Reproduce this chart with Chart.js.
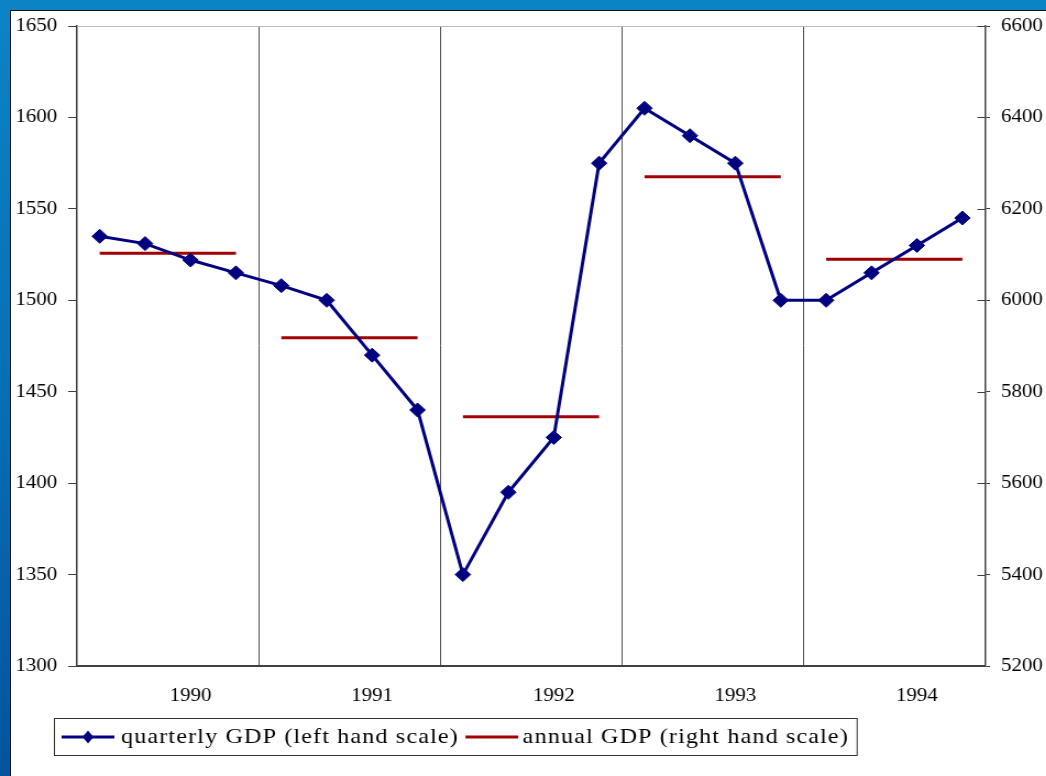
<!DOCTYPE html>
<html>
<head>
<meta charset="utf-8">
<title>Quarterly vs annual GDP</title>
<script src="https://cdn.jsdelivr.net/npm/chart.js@4.4.1/dist/chart.umd.min.js"></script>
<style>
  html, body { margin: 0; padding: 0; }
  body {
    width: 1046px; height: 776px; overflow: hidden; position: relative;
    background: linear-gradient(180deg, #0b84c6 0%, #0672b8 45%, #04549f 100%);
  }
  /* white slide area with thin dark edge */
  #frame {
    position: absolute; left: 10px; top: 10px; right: 0; bottom: 0;
    background: #fff; border-left: 1px solid #111; border-top: 1px solid #111;
    overflow: hidden;
  }
  /* the source picture is slightly stretched horizontally */
  #stretch { position: absolute; left: 0; top: 0; transform: scaleX(1.1); transform-origin: 0 0; }
</style>
</head>
<body>
<div id="frame">
  <div id="stretch"><canvas id="chart" width="941" height="765"></canvas></div>
</div>
<script>
// --- data ---
const years = ['1990', '1991', '1992', '1993', '1994'];
// quarterly GDP, left hand scale (4 per year)
const quarterlyGDP = [
  1535, 1531, 1522, 1515,
  1508, 1500, 1470, 1440,
  1350, 1395, 1425, 1575,
  1605, 1590, 1575, 1500,
  1500, 1515, 1530, 1545
];
// annual GDP, right hand scale
const annualGDP = [6103, 5918, 5745, 6270, 6090];

const leftTicks = { min: 1300, max: 1650, step: 50 };
const rightTicks = { min: 5200, max: 6600, step: 200 };

const seriesLabels = ['quarterly GDP (left hand scale)', 'annual GDP (right hand scale)'];
const BLUE = '#000080';
const RED = '#a00000';
const AXIS = '#404040';
const FONT = "'Liberation Serif', 'Times New Roman', serif";

Chart.defaults.font.family = FONT;
Chart.defaults.font.size = 19;
Chart.defaults.color = '#000';

// quarter i sits in the middle of its slot on a 0..20 linear axis
const quarterPoints = quarterlyGDP.map((v, i) => ({ x: i + 0.5, y: v }));

// one flat segment per year, from first to last quarter, broken by a null
const annualPoints = [];
annualGDP.forEach((v, i) => {
  annualPoints.push({ x: i * 4 + 0.5, y: v });
  annualPoints.push({ x: i * 4 + 3.5, y: v });
  annualPoints.push({ x: i * 4 + 4, y: null });
});

// x ticks: year label under the 3rd quarter, grid line at year boundaries
function buildXTicks(scale) {
  const ticks = [];
  years.forEach((y, i) => {
    if (i > 0) ticks.push({ value: i * 4 });
    ticks.push({ value: i * 4 + 2.5 });
  });
  scale.ticks = ticks;
}

// fixed axis width, and let the top/bottom labels hang over the plot edge
function fixWidth(w) {
  return (s) => {
    s.width = w;
    s.paddingTop = 0;
    s.paddingBottom = 0;
  };
}

// light top edge + inner half of the right axis ticks
const frameLines = {
  id: 'frameLines',
  afterDraw(chart) {
    const { ctx, chartArea } = chart;
    ctx.save();
    ctx.strokeStyle = '#b8b8b8';
    ctx.lineWidth = 1;
    ctx.beginPath();
    ctx.moveTo(chartArea.left, chartArea.top + 0.5);
    ctx.lineTo(chartArea.right, chartArea.top + 0.5);
    ctx.stroke();

    const y2 = chart.scales.y2;
    ctx.strokeStyle = AXIS;
    ctx.beginPath();
    y2.ticks.forEach((t, i) => {
      const py = Math.round(y2.getPixelForTick(i)) + 0.5;
      ctx.moveTo(y2.left - 7, py);
      ctx.lineTo(y2.left, py);
    });
    ctx.stroke();
    ctx.restore();
  }
};

// boxed legend under the axis, like the Excel one
const boxLegend = {
  id: 'boxLegend',
  afterDraw(chart) {
    const ctx = chart.ctx;
    const boxLeft = 39, boxTop = 707, boxHeight = 37;
    const midY = boxTop + boxHeight / 2 + 0.5;
    const swatchW = 48, gap = 6;

    ctx.save();
    ctx.font = '22px ' + FONT;
    if ('letterSpacing' in ctx) ctx.letterSpacing = '1px';
    ctx.textBaseline = 'middle';
    ctx.fillStyle = '#000';

    let x = boxLeft + 7;
    // quarterly: line with a diamond
    ctx.strokeStyle = BLUE;
    ctx.lineWidth = 3;
    ctx.beginPath();
    ctx.moveTo(x, midY);
    ctx.lineTo(x + swatchW, midY);
    ctx.stroke();
    const cx = x + swatchW / 2;
    ctx.fillStyle = BLUE;
    ctx.beginPath();
    ctx.moveTo(cx - 5, midY);
    ctx.lineTo(cx, midY - 6.5);
    ctx.lineTo(cx + 5, midY);
    ctx.lineTo(cx, midY + 6.5);
    ctx.closePath();
    ctx.fill();
    x += swatchW + gap;
    ctx.fillStyle = '#000';
    ctx.fillText(seriesLabels[0], x, midY);
    x += ctx.measureText(seriesLabels[0]).width + gap;

    // annual: plain red line
    ctx.strokeStyle = RED;
    ctx.beginPath();
    ctx.moveTo(x, midY);
    ctx.lineTo(x + swatchW, midY);
    ctx.stroke();
    x += swatchW + 4;
    ctx.fillText(seriesLabels[1], x, midY);
    x += ctx.measureText(seriesLabels[1]).width + 7;

    ctx.strokeStyle = '#333';
    ctx.lineWidth = 1;
    ctx.strokeRect(boxLeft + 0.5, boxTop + 0.5, x - boxLeft, boxHeight);
    ctx.restore();
  }
};

const plainNumber = (v) => String(v);

new Chart(document.getElementById('chart'), {
  type: 'line',
  data: {
    datasets: [
      {
        label: seriesLabels[0],
        data: quarterPoints,
        yAxisID: 'y',
        borderColor: BLUE,
        backgroundColor: BLUE,
        borderWidth: 3,
        pointStyle: 'rectRot',
        pointRadius: 7,
        pointBorderWidth: 1,
        tension: 0
      },
      {
        label: seriesLabels[1],
        data: annualPoints,
        yAxisID: 'y2',
        borderColor: RED,
        backgroundColor: RED,
        borderWidth: 3,
        pointRadius: 0,
        spanGaps: false,
        tension: 0
      }
    ]
  },
  options: {
    responsive: false,
    animation: false,
    events: [],
    layout: { padding: { top: 15, left: 0, right: 0, bottom: 0 } },
    plugins: {
      legend: { display: false },
      tooltip: { enabled: false }
    },
    scales: {
      x: {
        type: 'linear',
        min: 0,
        max: quarterlyGDP.length,
        afterBuildTicks: buildXTicks,
        afterFit: (s) => { s.height = 110; },
        grid: {
          drawTicks: false,
          color: (c) => (c.tick && c.tick.value % 4 === 0 ? '#505050' : 'rgba(0,0,0,0)'),
          lineWidth: 1
        },
        border: { display: true, color: AXIS, width: 2 },
        ticks: {
          autoSkip: false,
          maxRotation: 0,
          padding: 19,
          callback: (value) => {
            const i = (value - 2.5) / 4;
            return Number.isInteger(i) ? years[i] : '';
          }
        }
      },
      y: {
        position: 'left',
        min: leftTicks.min,
        max: leftTicks.max,
        afterFit: fixWidth(60),
        ticks: { stepSize: leftTicks.step, padding: 10, callback: plainNumber },
        grid: { drawOnChartArea: false, tickLength: 8, tickColor: AXIS },
        border: { display: true, color: AXIS, width: 1.5 }
      },
      y2: {
        position: 'right',
        min: rightTicks.min,
        max: rightTicks.max,
        afterFit: fixWidth(55.5),
        ticks: { stepSize: rightTicks.step, padding: 10, callback: plainNumber },
        grid: { drawOnChartArea: false, tickLength: 4.5, tickColor: AXIS },
        border: { display: true, color: AXIS, width: 1.5 }
      }
    }
  },
  plugins: [frameLines, boxLegend]
});
</script>
</body>
</html>
